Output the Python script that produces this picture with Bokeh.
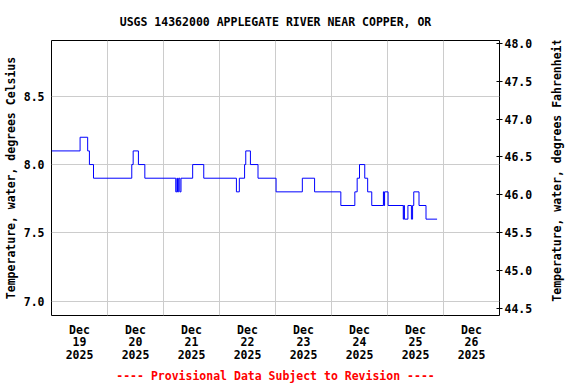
import pandas as pd
from bokeh.plotting import figure
from bokeh.layouts import row
from bokeh.models import (ColumnDataSource, Range1d, LinearAxis, FixedTicker,
                          NumeralTickFormatter, Label, Title)
from bokeh.embed import file_html
from bokeh.resources import INLINE

# ---- data (change points of the 15-min record, degrees Celsius) ----
times = [
    "2025-12-19 00:00", "2025-12-19 12:15", "2025-12-19 15:30", "2025-12-19 16:15",
    "2025-12-19 18:00", "2025-12-20 10:24", "2025-12-20 11:00", "2025-12-20 13:15",
    "2025-12-20 16:00", "2025-12-21 05:15", "2025-12-21 05:45", "2025-12-21 06:00",
    "2025-12-21 06:30", "2025-12-21 07:00", "2025-12-21 07:30", "2025-12-21 12:30",
    "2025-12-21 17:15", "2025-12-22 07:15", "2025-12-22 08:30", "2025-12-22 10:45",
    "2025-12-22 11:15", "2025-12-22 13:15", "2025-12-22 16:30", "2025-12-23 00:15",
    "2025-12-23 11:30", "2025-12-23 16:45", "2025-12-24 04:00", "2025-12-24 10:00",
    "2025-12-24 11:00", "2025-12-24 12:00", "2025-12-24 14:15", "2025-12-24 15:30",
    "2025-12-24 17:15", "2025-12-24 22:15", "2025-12-24 22:30", "2025-12-24 22:45",
    "2025-12-25 00:15", "2025-12-25 06:45", "2025-12-25 07:00", "2025-12-25 07:15",
    "2025-12-25 08:45", "2025-12-25 10:15", "2025-12-25 10:45", "2025-12-25 11:15",
    "2025-12-25 13:30", "2025-12-25 16:30", "2025-12-25 21:15",
]
temps_c = [
    8.1, 8.2, 8.1, 8.0,
    7.9, 8.0, 8.1, 8.0,
    7.9, 7.8, 7.9, 7.8,
    7.9, 7.8, 7.9, 8.0,
    7.9, 7.8, 7.9, 8.0,
    8.1, 8.0, 7.9, 7.8,
    7.9, 7.8, 7.7, 7.8,
    7.9, 8.0, 7.9, 7.8,
    7.7, 7.8, 7.7, 7.8,
    7.7, 7.6, 7.7, 7.6,
    7.7, 7.6, 7.7, 7.8,
    7.7, 7.6, 7.6,
]

start = pd.Timestamp("2025-12-19 00:00")
day_labels = ["Dec\n19\n2025", "Dec\n20\n2025", "Dec\n21\n2025", "Dec\n22\n2025",
              "Dec\n23\n2025", "Dec\n24\n2025", "Dec\n25\n2025", "Dec\n26\n2025"]
c_ticks = [7.0, 7.5, 8.0, 8.5]
f_ticks = [44.5, 45.0, 45.5, 46.0, 46.5, 47.0, 47.5, 48.0]

title_text = "USGS 14362000 APPLEGATE RIVER NEAR COPPER, OR"
footer_text = "---- Provisional Data Subject to Revision ----"
ylabel_c = "Temperature, water, degrees Celsius"
ylabel_f = "Temperature, water, degrees Fahrenheit"

# ---- derived ----
x_days = [(pd.Timestamp(t) - start) / pd.Timedelta(days=1) for t in times]
src = ColumnDataSource(dict(x=x_days, y=temps_c))
n_days = len(day_labels)
label_pos = [i + 0.5 for i in range(n_days)]
grid_pos = [float(i) for i in range(1, n_days)]

y0, y1 = 6.894, 8.909
FONT = "DejaVu Sans Mono"
FS = "11.5px"
MAIN_W, STRIP_W, H = 548, 28, 384

p = figure(width=MAIN_W, height=H, output_backend="svg", toolbar_location=None,
           x_range=Range1d(0, n_days), y_range=Range1d(y0, y1),
           min_border_left=51, min_border_right=49, min_border_top=40,
           min_border_bottom=68)
p.background_fill_color = "white"
p.border_fill_color = "white"
p.outline_line_color = "black"
p.outline_line_width = 1

p.title.text = title_text
p.title.align = "center"
p.title.text_font = FONT
p.title.text_font_size = FS
p.title.text_font_style = "bold"
p.title.text_color = "black"
p.title.standoff = 23

p.step(x="x", y="y", source=src, mode="after", line_color="#0000ff", line_width=1)

# left axis (Celsius)
ya = p.yaxis[0]
ya.ticker = FixedTicker(ticks=c_ticks)
ya.formatter = NumeralTickFormatter(format="0.0")
ya.axis_label = ylabel_c
ya.axis_line_color = None
ya.major_tick_line_color = None
ya.minor_tick_line_color = None
ya.major_tick_in = 0
ya.major_tick_out = 0
ya.major_label_standoff = 7
ya.axis_label_standoff = 3

# bottom axis
xa = p.xaxis[0]
xa.ticker = FixedTicker(ticks=label_pos)
xa.major_label_overrides = {pos: lab for pos, lab in zip(label_pos, day_labels)}
xa.axis_line_color = None
xa.major_tick_line_color = None
xa.minor_tick_line_color = None
xa.major_tick_in = 0
xa.major_tick_out = 0
xa.major_label_standoff = 7
xa.major_label_text_line_height = 0.9

# right axis (Fahrenheit), its title is drawn in the strip beside
p.extra_y_ranges = {"f": Range1d(y0 * 1.8 + 32, y1 * 1.8 + 32)}
ra = LinearAxis(y_range_name="f", ticker=FixedTicker(ticks=f_ticks),
                formatter=NumeralTickFormatter(format="0.0"))
ra.axis_line_color = None
ra.major_tick_line_color = "black"
ra.major_tick_in = 3
ra.major_tick_out = 3
ra.minor_tick_line_color = None
ra.major_label_standoff = 2
p.add_layout(ra, "right")

for ax in (ya, xa, ra):
    ax.major_label_text_font = FONT
    ax.major_label_text_font_size = FS
    ax.major_label_text_font_style = "bold"
    ax.major_label_text_color = "black"
    ax.axis_label_text_font = FONT
    ax.axis_label_text_font_size = FS
    ax.axis_label_text_font_style = "bold"
    ax.axis_label_text_color = "black"

p.xgrid.ticker = FixedTicker(ticks=grid_pos)
p.ygrid.ticker = FixedTicker(ticks=c_ticks)
p.xgrid.grid_line_color = "#cccccc"
p.ygrid.grid_line_color = "#cccccc"

p.add_layout(Title(text=footer_text, align="center", text_color="red",
                   text_font=FONT, text_font_size=FS, text_font_style="bold",
                   standoff=4), "below")

# narrow strip holding the Fahrenheit axis title (reads bottom to top)
s = figure(width=STRIP_W, height=H, output_backend="svg", toolbar_location=None,
           x_range=Range1d(0, STRIP_W), y_range=Range1d(H, 0),
           x_axis_location=None, y_axis_location=None,
           min_border_left=0, min_border_right=0, min_border_top=0,
           min_border_bottom=0)
s.outline_line_color = None
s.xgrid.visible = False
s.ygrid.visible = False
s.background_fill_color = "white"
s.border_fill_color = "white"
s.add_layout(Label(x=8, y=181, text=ylabel_f, angle=90, angle_units="deg",
                   text_font=FONT, text_font_size=FS, text_font_style="bold",
                   text_color="black", text_align="center",
                   text_baseline="middle"))

layout = row(p, s, spacing=0)
open("out.html", "w").write(file_html(layout, INLINE))
